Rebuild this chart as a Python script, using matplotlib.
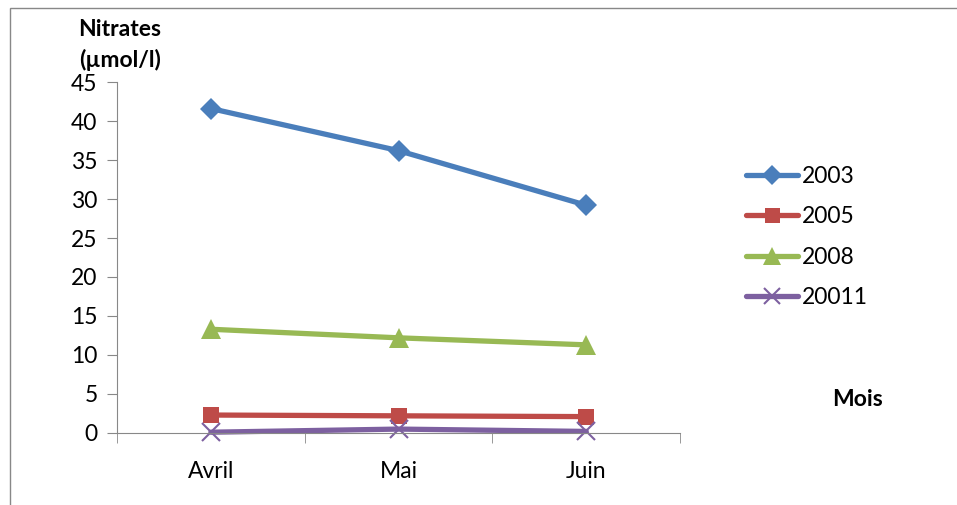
import matplotlib.pyplot as plt
from matplotlib.patches import Rectangle

plt.rcParams['font.family'] = ['Lato', 'DejaVu Sans']

mois = ['Avril', 'Mai', 'Juin']
annees = ['2003', '2005', '2008', '20011']
v2003 = [41.6, 36.2, 29.2]
v2005 = [2.3, 2.2, 2.1]
v2008 = [13.3, 12.2, 11.3]
v20011 = [0.1, 0.5, 0.2]

series = [v2003, v2005, v2008, v20011]
couleurs = ['#4A7EBB', '#BE4B48', '#98B954', '#7D60A0']
marqueurs = ['D', 's', '^', 'x']
tailles = [11, 12, 14, 13]

fig = plt.figure(figsize=(9.57, 5.05), dpi=100)
ax = fig.add_axes([0.1223, 0.1426, 0.5883, 0.695])

# cadre gris autour du graphique
fig.patches.append(Rectangle((10 / 957, -0.1), 1.2, 1 - 8 / 505 + 0.1,
                             transform=fig.transFigure, fill=False,
                             edgecolor='#888888', linewidth=1))

x = range(len(mois))
for vals, nom, c, m, s in zip(series, annees, couleurs, marqueurs, tailles):
    ax.plot(x, vals, color=c, linewidth=3.8, marker=m, markersize=s,
            markeredgewidth=1.5 if m == 'x' else 0, markeredgecolor=c,
            label=nom, solid_capstyle='round', clip_on=False)

ax.set_xlim(-0.5, 2.5)
ax.set_ylim(0, 45)
ax.set_yticks(range(0, 46, 5))
ax.set_xticks(x)
ax.set_xticklabels(mois)
ax.set_xticks([-0.5, 0.5, 1.5, 2.5], minor=True)
ax.tick_params(axis='x', which='major', length=0, pad=20, labelsize=16.5)
ax.tick_params(axis='x', which='minor', length=7, color='#888888')
ax.tick_params(axis='y', length=7, color='#888888', labelsize=16.5, pad=7)

for s in ['top', 'right']:
    ax.spines[s].set_visible(False)
for s in ['left', 'bottom']:
    ax.spines[s].set_color('#888888')

fig.text(120 / 957, 1 - 30 / 505, 'Nitrates', ha='center', va='center',
         fontsize=16.5, fontweight='bold')
fig.text(120 / 957, 1 - 60 / 505, '(µmol/l)', ha='center', va='center',
         fontsize=16.5, fontweight='bold')
fig.text(858 / 957, 1 - 399 / 505, 'Mois', ha='center', va='center',
         fontsize=16.5, fontweight='bold')

fig.legend(loc='upper left', bbox_to_anchor=(725 / 957, 1 - 145 / 505),
           frameon=False, fontsize=16.5, handlelength=2.3, handletextpad=0.15,
           labelspacing=0.85, markerscale=0.9)

fig.savefig('out.png', dpi=100)
